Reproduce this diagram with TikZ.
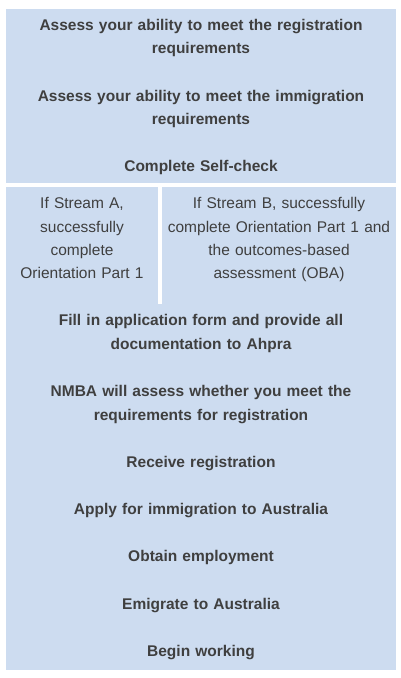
\documentclass[tikz,border=0pt]{standalone}
\usepackage{fontspec}
\setmainfont{Liberation Sans}
\usetikzlibrary{positioning}

\definecolor{panelblue}{HTML}{CDDCF0}
\definecolor{textgrey}{HTML}{3F3F3F}

\begin{document}
\begin{tikzpicture}[x=1pt, y=-1pt]
	% Setup the styles for the steps
	\tikzset{stage style/.style={align=center, text width=380pt,
			inner sep=0pt, outer sep=0pt, text=textgrey,
			font=\fontsize{15.5}{23.6}\selectfont\bfseries,
			execute at begin node=\strut, execute at end node=\strut},
		stream style/.style={stage style,
			font=\fontsize{15.5}{23.3}\selectfont}}
	\tikzset{node distance=23.6pt}
	
	\useasboundingbox (0,0) rectangle (400,678);
	
	% Background panels
	\fill[panelblue] (6,9) rectangle (396,183.4);
	\fill[panelblue] (6,186.6) rectangle (396,670);
	\fill[white] (158.2,186.6) rectangle (161.8,304);
	
	\node[stage style] at (201,37.3) (reg) {Assess your ability to meet the registration\\requirements};
	\node[stage style, below=of reg]  (imm)  {Assess your ability to meet the immigration\\requirements};
	\node[stage style, below=of imm]  (self) {Complete Self-check};
	
	\node[stream style, text width=148pt] at (82,239)  (streamA) {If Stream A,\\successfully\\complete\\Orientation Part 1};
	\node[stream style, text width=230pt] at (279,239) (streamB) {If Stream B, successfully\\complete Orientation Part 1 and\\the outcomes-based\\assessment (OBA)};
	
	\node[stage style] at (201,333) (form) {Fill in application form and provide all\\documentation to Ahpra};
	\node[stage style, below=of form]     (nmba)     {NMBA will assess whether you meet the\\requirements for registration};
	\node[stage style, below=of nmba]     (receive)  {Receive registration};
	\node[stage style, below=of receive]  (visa)     {Apply for immigration to Australia};
	\node[stage style, below=of visa]     (employ)   {Obtain employment};
	\node[stage style, below=of employ]   (emigrate) {Emigrate to Australia};
	\node[stage style, below=of emigrate] (work)     {Begin working};
	
\end{tikzpicture}
\end{document}
